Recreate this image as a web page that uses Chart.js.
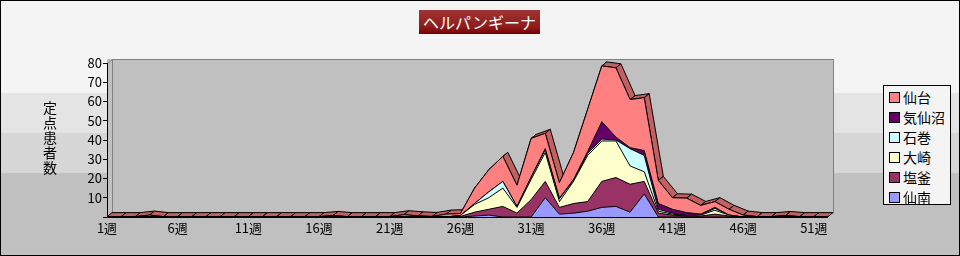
<!DOCTYPE html>
<html>
<head>
<meta charset="utf-8">
<script src="https://cdn.jsdelivr.net/npm/chart.js@4"></script>
<style>
body { margin: 0; }
#wrap {
    position: relative; width: 960px; height: 256px; overflow: hidden;
    background: linear-gradient(to bottom, #F4F4F4 0, #F4F4F4 93px, #E4E4E4 93px, #E4E4E4 133px,
                #D6D6D6 133px, #D6D6D6 173px, #C0C0C0 173px);
    font-family: "Noto Sans CJK JP", sans-serif;
}
#c { position: absolute; left: 0; top: 0; }
#frame { position: absolute; left: 0; top: 0; width: 958px; height: 254px; border: 1px solid #000; pointer-events: none; }
#title {
    position: absolute; left: 419px; top: 10px; width: 121px; height: 24px;
    background: linear-gradient(#A03434, #8E1C1C 70%, #7A0000);
    color: #fff; font-size: 16px; line-height: 24px; text-align: center;
}
#ytitle {
    position: absolute; left: 42px; top: 101px; font-size: 14px; line-height: 16px;
    writing-mode: vertical-rl; text-orientation: upright; letter-spacing: 1px; color: #000;
}
#legend {
    position: absolute; left: 883px; top: 85px; width: 66px; height: 118px;
    background: #F4F4F4; border: 1px solid #000;
}
#legend div { position: relative; height: 20px; }
#legend span.box { position: absolute; left: 5px; top: 6px; width: 9px; height: 9px; border: 1px solid #000; }
#legend span.txt { position: absolute; left: 19px; top: 0; font-size: 14px; line-height: 22px; color: #000; }
</style>
</head>
<body>
<div id="wrap">
    <canvas id="c" width="960" height="256"></canvas>
    <div id="title">ヘルパンギーナ</div>
    <div id="ytitle">定点患者数</div>
    <div id="legend"></div>
    <div id="frame"></div>
</div>
<script>
// week labels 1週 .. 52週
const weeks = Array.from({ length: 52 }, (_, i) => (i + 1) + '週');

// series, bottom of the stack first
const names  = ['仙南', '塩釜', '大崎', '石巻', '気仙沼', '仙台'];
const colors = ['#9999FF', '#993366', '#FFFFCC', '#CCFFFF', '#660066', '#FF8080'];

const sennan = [0,0,0,0,0,0,0,0,0,0, 0,0,0,0,0,0,0,0,0,0, 0,0,0,0,0,0,
    0.5,1,0,0,0,10,1.5,2,3,5,5.5,2.5,12,
    0,0,0,0,0,0,0,0,0,0,0,0,0];
const shiogama = [0,0,0,0,0,0,0,0,0,0, 0,0,0,0,0,0,0,0,0,0, 0,0,0,0,0, 0.3,
    2,3,5.5,2,9,8.5,3.5,5,5,13.5,15,14.5,6.5,2,1,0.5,0.5,1.5,0.5,
    0,0,0,0,0,0,0];
const osaki = [0,0,0,0,0,0,0,0,0,0, 0,0,0,0,0,0,0,0,0,0, 0,0,0,0,0, 0.5,
    4,6,9.5,3,10.5,15,3,11.5,24,21,19,9.5,5,1,0.5,0.3,0.5,2,0.5,
    0,0,0,0,0,0,0];
const ishinomaki = [0,0,0,0,0,0,0,0,0,0, 0,0,0,0,0,0,0,0,0,0, 0,0,0,0,0,0,
    0.5,3,3.5,0.5,1,1.5,1.5,0.5,1,1,0.5,9,8.5,1,0.5,0,0,1,
    0,0,0,0,0,0,0,0];
const kesennuma = [0,0,0,0,0,0,0,0,0,0, 0,0,0,0,0,0,0,0,0,0, 0,0,0,0,0,0,0,0,0,0,
    0.3,0.5,0.3,0.5,1,9,1.5,0.5,2.5,3,2,1.5,0.5,0.5,
    0,0,0,0,0,0,0,0];
const sendai = [0.2,0.2,0.2,1,0.2,0.2,0.2,0.2,0.2,0.2, 0.2,0.2,0.2,0.2,0.2,0.2,0.8,0.2,0.2,0.2,
    0.2,1.2,0.6,0.3,1.5,1,
    8,11.5,13,11,20,8,8,14,22,29,36,25,27.5,12,6,7.5,4.5,3,3,1,
    0.2,0.2,0.8,0.2,0.2,0.2];

const seriesValues = [sennan, shiogama, osaki, ishinomaki, kesennuma, sendai];

// y axis
const yMax = 80;
const yStep = 10;

// legend (top of the stack first, like the original)
const legendEl = document.getElementById('legend');
for (let i = names.length - 1; i >= 0; i--) {
    const row = document.createElement('div');
    row.innerHTML = '<span class="box" style="background:' + colors[i] + '"></span><span class="txt">' + names[i] + '</span>';
    legendEl.appendChild(row);
}

// fake 3D: back wall plus the top face of the stack
const DX = 5, DY = -4;
const threeD = {
    id: 'threeD',
    beforeDraw(chart) {
        const { ctx, chartArea: a } = chart;
        ctx.save();
        ctx.fillStyle = '#C0C0C0';
        ctx.fillRect(a.left, a.top + DY, a.width + DX, a.height - DY);

        ctx.strokeStyle = '#808080';
        ctx.lineWidth = 1;
        ctx.beginPath();
        ctx.moveTo(a.left + 0.5, a.top + 0.5);
        ctx.lineTo(a.left + DX + 0.5, a.top + DY + 0.5);
        ctx.lineTo(a.right + DX + 0.5, a.top + DY + 0.5);
        ctx.lineTo(a.right + DX + 0.5, a.bottom + DY + 0.5);
        ctx.moveTo(a.left + DX + 0.5, a.top + DY + 0.5);
        ctx.lineTo(a.left + DX + 0.5, a.bottom + DY + 0.5);
        ctx.stroke();

        const pts = chart.getDatasetMeta(chart.data.datasets.length - 1).data;
        ctx.fillStyle = '#C06060';
        ctx.strokeStyle = '#000';
        for (let i = 0; i < pts.length - 1; i++) {
            const p = pts[i], q = pts[i + 1];
            ctx.beginPath();
            ctx.moveTo(p.x, p.y);
            ctx.lineTo(q.x, q.y);
            ctx.lineTo(q.x + DX, q.y + DY);
            ctx.lineTo(p.x + DX, p.y + DY);
            ctx.closePath();
            ctx.fill();
            ctx.stroke();
        }
        ctx.restore();
    },
    afterDatasetsDraw(chart) {
        const { ctx, chartArea: a } = chart;
        ctx.save();
        ctx.strokeStyle = '#000';
        ctx.lineWidth = 1;
        ctx.beginPath();
        ctx.moveTo(a.left + 0.5, a.top);
        ctx.lineTo(a.left + 0.5, a.bottom + 0.5);
        ctx.lineTo(a.right, a.bottom + 0.5);
        ctx.stroke();
        ctx.restore();
    }
};

const tickFont = { family: '"Noto Sans CJK JP", sans-serif', size: 13 };

new Chart(document.getElementById('c').getContext('2d'), {
    type: 'line',
    data: {
        labels: weeks,
        datasets: seriesValues.map((vals, i) => ({
            label: names[i],
            data: vals,
            backgroundColor: colors[i],
            borderColor: '#000',
            borderWidth: 1,
            fill: i === 0 ? 'origin' : '-1',
            pointRadius: 0,
            tension: 0
        }))
    },
    options: {
        responsive: false,
        animation: false,
        layout: { padding: { top: 63, right: 132, left: 0, bottom: 0 } },
        plugins: { legend: { display: false }, tooltip: { enabled: false } },
        scales: {
            x: {
                grid: { display: false, drawTicks: false },
                border: { display: false },
                ticks: {
                    autoSkip: false, maxRotation: 0, padding: 3, color: '#000', font: tickFont,
                    callback: (v, i) => i % 5 === 0 ? weeks[i] : ''
                },
                afterFit(s) { s.height = 39; }
            },
            y: {
                stacked: true,
                min: 0,
                max: yMax,
                grid: { drawOnChartArea: false, tickLength: 4, color: '#000' },
                border: { display: false },
                ticks: {
                    stepSize: yStep, padding: 1, color: '#000', font: tickFont,
                    callback: v => v === 0 ? '' : v
                },
                afterFit(s) { s.width = 107; }
            }
        }
    },
    plugins: [threeD]
});
</script>
</body>
</html>
